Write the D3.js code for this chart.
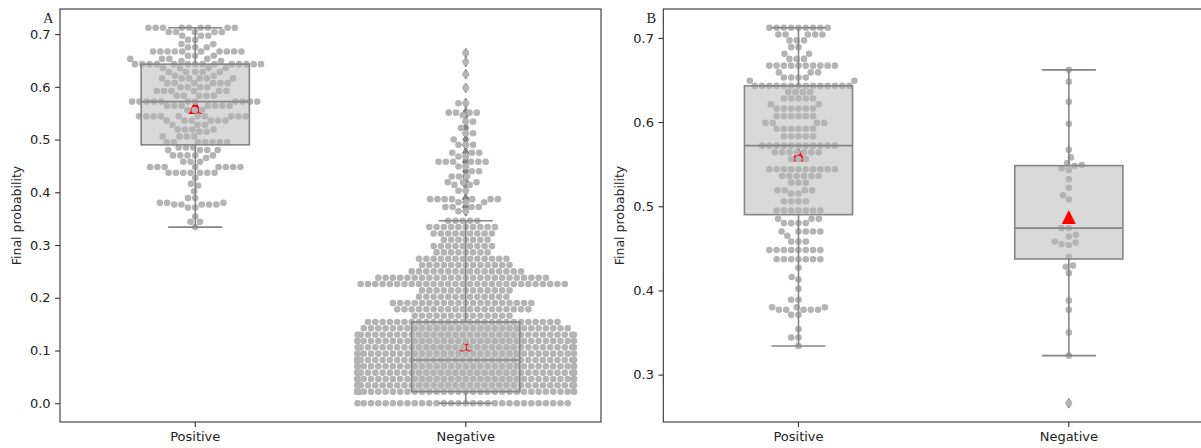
<!DOCTYPE html>
<html>
<head>
<meta charset="utf-8">
<script src="https://cdn.jsdelivr.net/npm/d3@7"></script>
<style>
  html, body { margin: 0; padding: 0; background: #ffffff; }
  svg { display: block; }
  text { font-family: "DejaVu Sans", sans-serif; fill: #222; }
</style>
</head>
<body>
<svg id="chart" width="1201" height="448"></svg>
<script>
// ---- data -------------------------------------------------------------
const categories = ["Positive", "Negative"];

// final probability levels and how many cases sit on each level
const positiveLevels = [
  [0.712, 9], [0.704, 5], [0.697, 3], [0.689, 2], [0.681, 2], [0.675, 3],
  [0.667, 10], [0.659, 3], [0.653, 4], [0.649, 2], [0.643, 14], [0.6355, 4],
  [0.628, 5], [0.621, 2], [0.616, 6], [0.607, 6], [0.599, 4], [0.592, 6],
  [0.583, 5], [0.572, 11], [0.564, 7], [0.556, 3], [0.544, 10], [0.536, 6],
  [0.528, 3], [0.519, 4], [0.515, 2], [0.506, 4], [0.495, 7], [0.485, 3],
  [0.480, 4], [0.470, 5], [0.465, 1], [0.458, 3], [0.448, 8], [0.437, 7],
  [0.427, 1], [0.416, 1], [0.413, 1], [0.402, 1], [0.389, 2], [0.380, 3],
  [0.377, 5], [0.371, 2], [0.354, 1], [0.344, 2], [0.334, 1]
];

const negativeLevelsA = [
  [0.000, 30], [0.022, 410], [0.034, 36], [0.046, 36], [0.058, 36], [0.070, 36],
  [0.082, 133], [0.094, 32], [0.106, 32], [0.118, 32], [0.130, 32], [0.142, 29],
  [0.154, 27], [0.166, 14], [0.178, 19], [0.190, 20], [0.202, 13], [0.214, 13],
  [0.226, 29], [0.238, 24], [0.250, 16], [0.262, 13], [0.274, 13], [0.286, 8],
  [0.298, 9], [0.310, 7], [0.322, 9], [0.334, 10], [0.346, 5],
  [0.364, 2], [0.372, 4], [0.381, 3], [0.387, 7], [0.403, 2], [0.414, 2],
  [0.419, 3], [0.430, 3], [0.440, 2], [0.449, 2], [0.458, 6], [0.468, 2],
  [0.475, 3], [0.490, 3], [0.500, 1], [0.512, 2], [0.522, 1], [0.534, 2],
  [0.546, 1], [0.551, 4], [0.569, 2], [0.598, 1], [0.624, 1], [0.647, 1],
  [0.664, 1]
];

const negativeValuesB = [
  0.662, 0.648, 0.624, 0.598, 0.567, 0.558, 0.551, 0.549, 0.548, 0.545,
  0.543, 0.532, 0.522, 0.513, 0.508, 0.474, 0.474, 0.466, 0.464, 0.458,
  0.457, 0.455, 0.454, 0.440, 0.4295, 0.428, 0.4205, 0.388, 0.377, 0.350,
  0.3225, 0.266
];

const yTicksA = [0.0, 0.1, 0.2, 0.3, 0.4, 0.5, 0.6, 0.7];
const yTicksB = [0.3, 0.4, 0.5, 0.6, 0.7];
const panelLetters = ["A", "B"];
const yTitle = "Final probability";

// ---- helpers ----------------------------------------------------------
function expand(levels) {
  const out = [];
  for (const [v, c] of levels) for (let i = 0; i < c; i++) out.push(v);
  return out;
}

function boxStats(values) {
  const s = values.slice().sort(d3.ascending);
  const q1 = d3.quantileSorted(s, 0.25);
  const med = d3.quantileSorted(s, 0.5);
  const q3 = d3.quantileSorted(s, 0.75);
  const iqr = q3 - q1;
  const loF = q1 - 1.5 * iqr, hiF = q3 + 1.5 * iqr;
  const inside = s.filter(v => v >= loF && v <= hiF);
  return {
    q1, med, q3,
    lo: d3.min(inside), hi: d3.max(inside),
    mean: d3.mean(s),
    fliers: s.filter(v => v < loF || v > hiF)
  };
}

// beeswarm placement (points sorted along the value axis, each one put at the
// free spot nearest the midline; spots past the half width go to the gutter)
function beeswarm(values, y, mid, r, halfWidth) {
  const pts = values.map(v => ({ v, y: y(v) })).sort((a, b) => a.v - b.v);
  const d = 2 * r, d2 = d * d;
  const far = halfWidth + 2 * d;
  const placed = [];
  const out = [];
  for (const p of pts) {
    const nb = [];
    for (let j = placed.length - 1; j >= 0; j--) {
      const q = placed[j];
      if (Math.abs(q.y - p.y) < d) nb.push(q); else break;
    }
    nb.reverse();
    let x = mid;
    if (nb.length) {
      const cands = [mid];
      let leftFirst = true;
      for (const q of nb) {
        const dy = p.y - q.y;
        const dx = Math.sqrt(Math.max(d2 - dy * dy, 0)) * 1.05;
        if (leftFirst) cands.push(q.x - dx, q.x + dx);
        else cands.push(q.x + dx, q.x - dx);
        leftFirst = !leftFirst;
      }
      const idx = d3.range(cands.length).sort((a, b) =>
        (Math.abs(cands[a] - mid) - Math.abs(cands[b] - mid)) || (a - b));
      const seen = new Set();
      x = null;
      for (const i of idx) {
        const c = cands[i];
        if (Math.abs(c - mid) > far) { x = c; break; }
        const key = Math.round(c * 1000);
        if (seen.has(key)) continue;
        seen.add(key);
        let ok = true;
        for (const q of nb) {
          const ddx = q.x - c, ddy = q.y - p.y;
          if (ddx * ddx + ddy * ddy < d2 - 1e-9) { ok = false; break; }
        }
        if (ok) { x = c; break; }
      }
      if (x === null) x = mid - far - 1;
    }
    if (Math.abs(x - mid) <= far) placed.push({ x, y: p.y });
    out.push({ v: p.v, y: p.y, x: Math.max(mid - halfWidth, Math.min(mid + halfWidth, x)) });
  }
  return out;
}

// ---- layout & style ---------------------------------------------------
const svg = d3.select("#chart");
const FRAME = "#333333";
const BOX_FILL = "#d9d9d9";
const LINE = "#858585";
const DOT = "#b4b4b4";
const MEAN = "#ff0000";
const R_SWARM = 3.47;
const R_DRAW = 3.3;

const positive = expand(positiveLevels);
const negativeA = expand(negativeLevelsA);

const panels = [
  { left: 60, right: 601, top: 9, bottom: 422, ticks: yTicksA,
    groups: [positive, negativeA], titleX: 21, letterX: 43, letterY: 23 },
  { left: 663.3, right: 1204, top: 9, bottom: 422, ticks: yTicksB,
    groups: [positive, negativeValuesB], titleX: 624, letterX: 646.5, letterY: 23 }
];

panels.forEach((P, pi) => {
  const all = P.groups.flat();
  const [mn, mx] = d3.extent(all);
  const pad = (mx - mn) * 0.05;
  const y = d3.scaleLinear().domain([mn - pad, mx + pad]).range([P.bottom, P.top]);
  const x = d3.scaleBand().domain(categories).range([P.left, P.right]);
  const bw = x.bandwidth();

  const g = svg.append("g");
  const clipId = "clip" + pi;
  svg.append("clipPath").attr("id", clipId).append("rect")
    .attr("x", P.left).attr("y", P.top)
    .attr("width", P.right - P.left).attr("height", P.bottom - P.top);
  const plot = g.append("g").attr("clip-path", `url(#${clipId})`);

  P.groups.forEach((vals, gi) => {
    const cat = categories[gi];
    const cx = x(cat) + bw / 2;
    const st = boxStats(vals);
    const boxW = bw * 0.4;
    const capW = boxW / 2;

    // box body
    plot.append("rect")
      .attr("x", cx - boxW / 2).attr("y", y(st.q3))
      .attr("width", boxW).attr("height", y(st.q1) - y(st.q3))
      .attr("fill", BOX_FILL);

    // fliers
    plot.selectAll(null).data(st.fliers).enter().append("path")
      .attr("d", d => {
        const yy = y(d), hw = 3.0, hh = 4.9;
        return `M${cx},${yy - hh}L${cx + hw},${yy}L${cx},${yy + hh}L${cx - hw},${yy}Z`;
      })
      .attr("fill", LINE).attr("stroke", LINE).attr("stroke-width", 0.8);

    // mean marker
    const my = y(st.mean), tw = 14, th = 14;
    plot.append("path")
      .attr("d", `M${cx},${my - th / 2}L${cx + tw / 2},${my + th / 2}L${cx - tw / 2},${my + th / 2}Z`)
      .attr("fill", MEAN);

    // swarm
    const sw = beeswarm(vals, y, cx, R_SWARM, bw * 0.4);
    plot.selectAll(null).data(sw).enter().append("circle")
      .attr("cx", d => d.x).attr("cy", d => d.y).attr("r", R_DRAW)
      .attr("fill", DOT);

    // box outline, whiskers, caps, median
    const lines = plot.append("g").attr("stroke", LINE).attr("stroke-width", 1.6).attr("fill", "none");
    lines.append("rect")
      .attr("x", cx - boxW / 2).attr("y", y(st.q3))
      .attr("width", boxW).attr("height", y(st.q1) - y(st.q3));
    lines.append("line").attr("x1", cx).attr("x2", cx).attr("y1", y(st.q3)).attr("y2", y(st.hi));
    lines.append("line").attr("x1", cx).attr("x2", cx).attr("y1", y(st.q1)).attr("y2", y(st.lo));
    lines.append("line").attr("x1", cx - capW / 2).attr("x2", cx + capW / 2).attr("y1", y(st.hi)).attr("y2", y(st.hi));
    lines.append("line").attr("x1", cx - capW / 2).attr("x2", cx + capW / 2).attr("y1", y(st.lo)).attr("y2", y(st.lo));
    lines.append("line").attr("x1", cx - boxW / 2).attr("x2", cx + boxW / 2).attr("y1", y(st.med)).attr("y2", y(st.med));
  });

  // axes
  const yAxis = d3.axisLeft(y).tickValues(P.ticks).tickFormat(d3.format(".1f"))
    .tickSize(4.9).tickPadding(4.5);
  const ya = g.append("g").attr("transform", `translate(${P.left},0)`).call(yAxis);
  const xAxis = d3.axisBottom(x).tickSize(4.9).tickPadding(5);
  const xa = g.append("g").attr("transform", `translate(0,${P.bottom})`).call(xAxis);
  [ya, xa].forEach(a => {
    a.select(".domain").remove();
    a.selectAll(".tick line").attr("stroke", FRAME).attr("stroke-width", 1.1);
    a.selectAll(".tick text").attr("font-size", 13).attr("font-family", "DejaVu Sans").attr("fill", "#222");
  });

  // frame
  g.append("rect")
    .attr("x", P.left).attr("y", P.top)
    .attr("width", P.right - P.left).attr("height", P.bottom - P.top)
    .attr("fill", "none").attr("stroke", FRAME).attr("stroke-width", 1.1);

  // axis title
  g.append("text")
    .attr("transform", `translate(${P.titleX},${(P.top + P.bottom) / 2}) rotate(-90)`)
    .attr("text-anchor", "middle").attr("font-size", 12.5)
    .text(yTitle);

  // panel letter
  g.append("text")
    .attr("x", P.letterX).attr("y", P.letterY)
    .attr("font-size", 14.5)
    .style("font-family", "'Liberation Serif', serif")
    .text(panelLetters[pi]);
});
</script>
</body>
</html>
